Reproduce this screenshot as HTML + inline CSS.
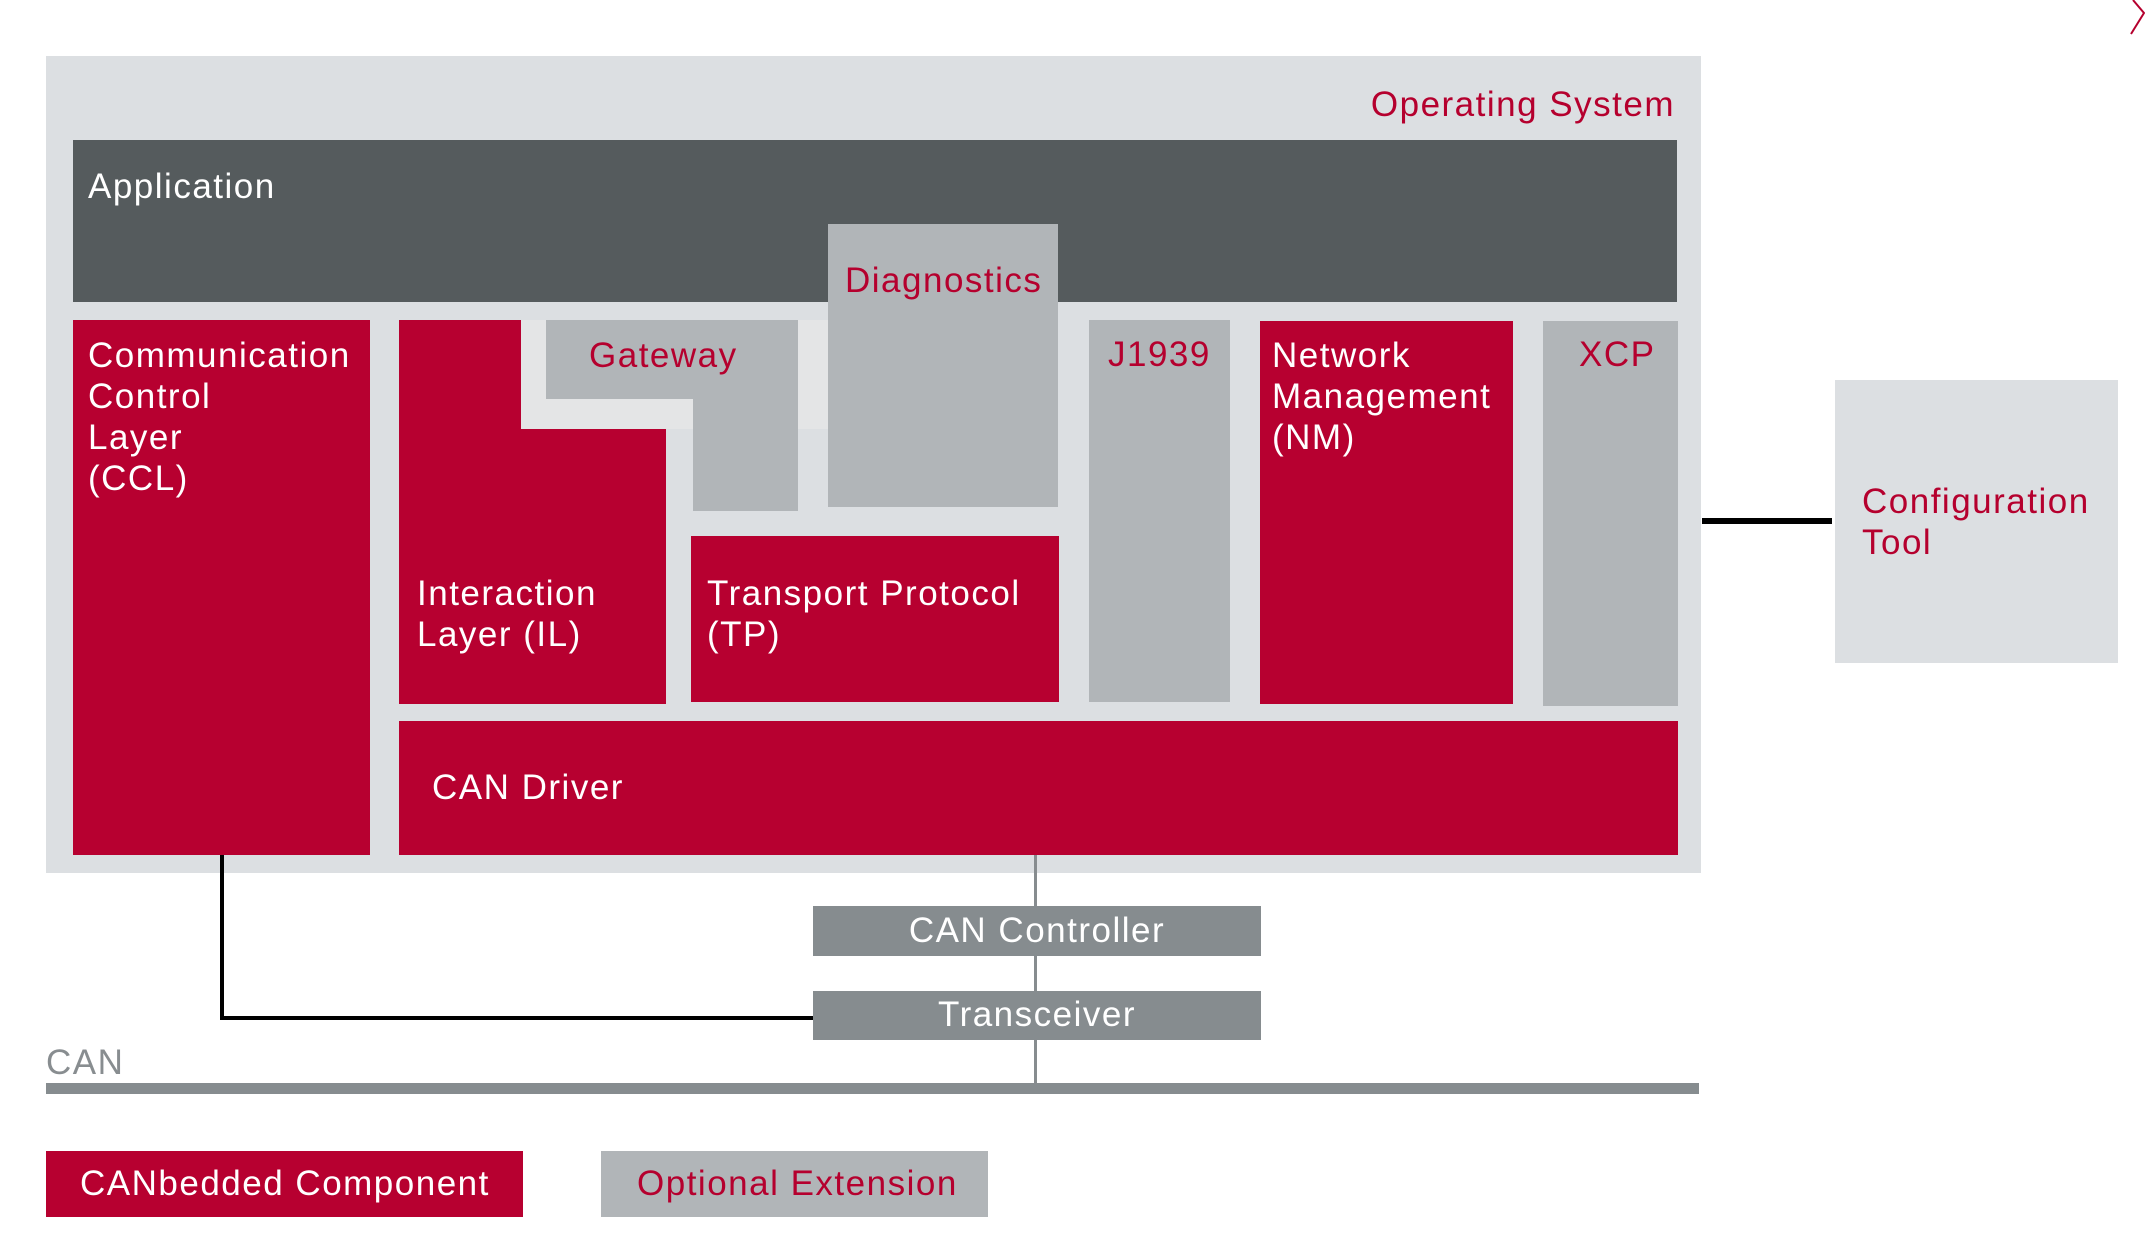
<!DOCTYPE html>
<html><head><meta charset="utf-8"><style>
html,body{margin:0;padding:0;background:#fff;}
body{width:2145px;height:1245px;position:relative;overflow:hidden;font-family:"Liberation Sans",sans-serif;}
.b{position:absolute;}
.t{position:absolute;font-size:35px;line-height:41px;white-space:nowrap;letter-spacing:1.5px;}
.w{color:#fff;} .r{color:#b5002e;}
.red{background:#b70030;} .g{background:#b1b5b8;}
</style></head><body>
<svg class="b" style="left:2125px;top:0" width="20" height="36"><polyline points="8,0 19,13 6,34" fill="none" stroke="#b5002e" stroke-width="2"/></svg>
<div class="b" style="left:46px;top:56px;width:1655px;height:817px;background:#dcdfe2"></div>
<div class="t r" style="left:1340px;top:84px;width:335px;text-align:right">Operating System</div>
<div class="b" style="left:73px;top:140px;width:1604px;height:162px;background:#555b5d"></div>
<div class="t w" style="left:88px;top:166px">Application</div>
<div class="b" style="left:521px;top:320px;width:307px;height:109px;background:#e4e5e6"></div>
<div class="b g" style="left:828px;top:224px;width:230px;height:283px"></div>
<div class="t r" style="left:845px;top:260px">Diagnostics</div>
<div class="b red" style="left:73px;top:320px;width:297px;height:535px"></div>
<div class="t w" style="left:88px;top:335px">Communication<br>Control<br>Layer<br>(CCL)</div>
<div class="b red" style="left:399px;top:320px;width:122px;height:384px"></div>
<div class="b red" style="left:399px;top:429px;width:267px;height:275px"></div>
<div class="t w" style="left:417px;top:573px">Interaction<br>Layer (IL)</div>
<div class="b g" style="left:546px;top:320px;width:252px;height:79px"></div>
<div class="b g" style="left:693px;top:320px;width:105px;height:191px"></div>
<div class="t r" style="left:589px;top:335px">Gateway</div>
<div class="b red" style="left:691px;top:536px;width:368px;height:166px"></div>
<div class="t w" style="left:707px;top:573px">Transport Protocol<br>(TP)</div>
<div class="b g" style="left:1089px;top:320px;width:141px;height:382px"></div>
<div class="t r" style="left:1108px;top:334px">J1939</div>
<div class="b red" style="left:1260px;top:321px;width:253px;height:383px"></div>
<div class="t w" style="left:1272px;top:335px">Network<br>Management<br>(NM)</div>
<div class="b g" style="left:1543px;top:321px;width:135px;height:385px"></div>
<div class="t r" style="left:1579px;top:334px">XCP</div>
<div class="b red" style="left:399px;top:721px;width:1279px;height:134px"></div>
<div class="t w" style="left:432px;top:767px">CAN Driver</div>
<div class="b" style="left:1702px;top:518px;width:130px;height:6px;background:#000"></div>
<div class="b" style="left:1835px;top:380px;width:283px;height:283px;background:#dcdfe2"></div>
<div class="t r" style="left:1862px;top:481px">Configuration<br>Tool</div>
<div class="b" style="left:1034px;top:855px;width:3px;height:230px;background:#878c8f"></div>
<div class="b" style="left:220px;top:855px;width:4px;height:165px;background:#000"></div>
<div class="b" style="left:220px;top:1016px;width:593px;height:4px;background:#000"></div>
<div class="b" style="left:813px;top:906px;width:448px;height:50px;background:#868c8f"></div>
<div class="t w" style="left:813px;top:910px;width:448px;text-align:center">CAN Controller</div>
<div class="b" style="left:813px;top:991px;width:448px;height:49px;background:#868c8f"></div>
<div class="t w" style="left:813px;top:994px;width:448px;text-align:center">Transceiver</div>
<div class="t" style="left:46px;top:1042px;color:#888d90">CAN</div>
<div class="b" style="left:46px;top:1083px;width:1653px;height:11px;background:#868c8f"></div>
<div class="b red" style="left:46px;top:1151px;width:477px;height:66px"></div>
<div class="t w" style="left:80px;top:1163px">CANbedded Component</div>
<div class="b g" style="left:601px;top:1151px;width:387px;height:66px"></div>
<div class="t r" style="left:637px;top:1163px">Optional Extension</div>
</body></html>
